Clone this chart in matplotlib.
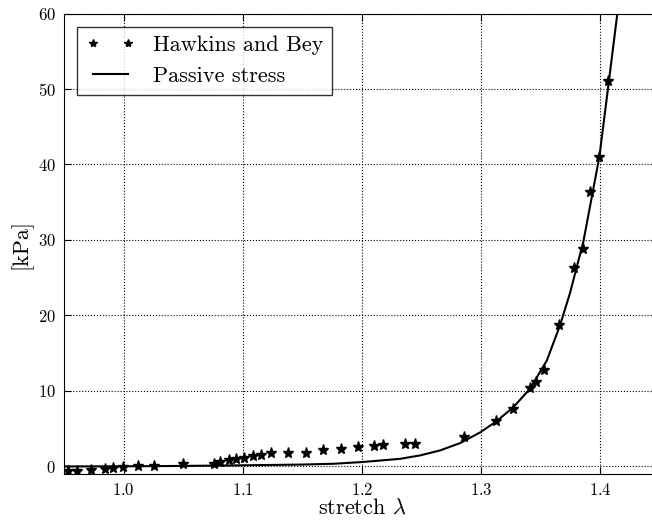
import numpy as np
import matplotlib
matplotlib.use('Agg')
import matplotlib.pyplot as plt

plt.rcParams['font.family'] = 'serif'
plt.rcParams['font.serif'] = ['cmr10']
plt.rcParams['mathtext.fontset'] = 'cm'
plt.rcParams['axes.formatter.use_mathtext'] = True

# Hawkins and Bey measurements (stretch, kPa)
hb_stretch = [0.9536, 0.9607, 0.9725, 0.9847, 0.9914, 0.9996, 1.0122, 1.0254,
              1.0497, 1.0763, 1.081, 1.0888, 1.0942, 1.1014, 1.109, 1.1157,
              1.1236, 1.1378, 1.1528, 1.1673, 1.1824, 1.1972, 1.21, 1.2179,
              1.2364, 1.245, 1.2856, 1.313, 1.3273, 1.3416, 1.3464, 1.3531,
              1.366, 1.3783, 1.3856, 1.392, 1.3995, 1.4071]
hb_stress = [-0.62, -0.62, -0.5, -0.31, -0.27, -0.09, 0.04, 0.09,
             0.27, 0.35, 0.62, 0.88, 1.02, 1.15, 1.37, 1.46,
             1.77, 1.8, 1.84, 2.12, 2.3, 2.52, 2.7, 2.83,
             2.92, 2.92, 3.89, 5.97, 7.65, 10.4, 11.23, 12.78,
             18.7, 26.35, 28.74, 36.3, 41.0, 51.1]

# passive stress curve
ps_stretch = [0.95, 1.0, 1.05, 1.1, 1.15, 1.1768, 1.2, 1.215, 1.2322, 1.2489,
              1.2657, 1.2825, 1.2993, 1.3133, 1.3273, 1.3413, 1.3553, 1.3665,
              1.3749, 1.3861, 1.3995, 1.4071, 1.4146, 1.42]
ps_stress = [0.0, 0.02, 0.07, 0.15, 0.25, 0.36, 0.58, 0.78, 1.01, 1.46,
             2.12, 3.09, 4.5, 6.0, 7.85, 10.3, 14.0, 18.7,
             23.0, 29.8, 41.0, 50.5, 60.0, 67.0]

fig = plt.figure(figsize=(6.52, 5.2), dpi=100)
ax = fig.add_axes([64 / 652, 1 - 474 / 520, 595.5 / 652, 460.5 / 520])

ax.plot(hb_stretch, hb_stress, '*', color='k', markersize=8, label='Hawkins and Bey')
ax.plot(ps_stretch, ps_stress, '-', color='k', linewidth=1.5, label='Passive stress')

ax.set_xlim(0.95, 1.45)
ax.set_ylim(-1, 60)
ax.set_xticks([1.0, 1.1, 1.2, 1.3, 1.4])
ax.set_yticks([0, 10, 20, 30, 40, 50, 60])
ax.tick_params(direction='in', top=True, right=True, labelsize=12, length=5, pad=6)
ax.grid(True, linestyle=':', color='k', linewidth=0.8)
ax.set_xlabel(r'stretch $\lambda$', fontsize=16, labelpad=0)
ax.set_ylabel('[kPa]', fontsize=16, labelpad=4)

leg = ax.legend(loc='upper left', numpoints=2, fancybox=False, fontsize=16,
                handlelength=2.2, borderaxespad=0.6, markerscale=0.75)
leg.get_frame().set_edgecolor('k')
leg.get_frame().set_linewidth(1.0)

plt.savefig('out.png', dpi=100)
